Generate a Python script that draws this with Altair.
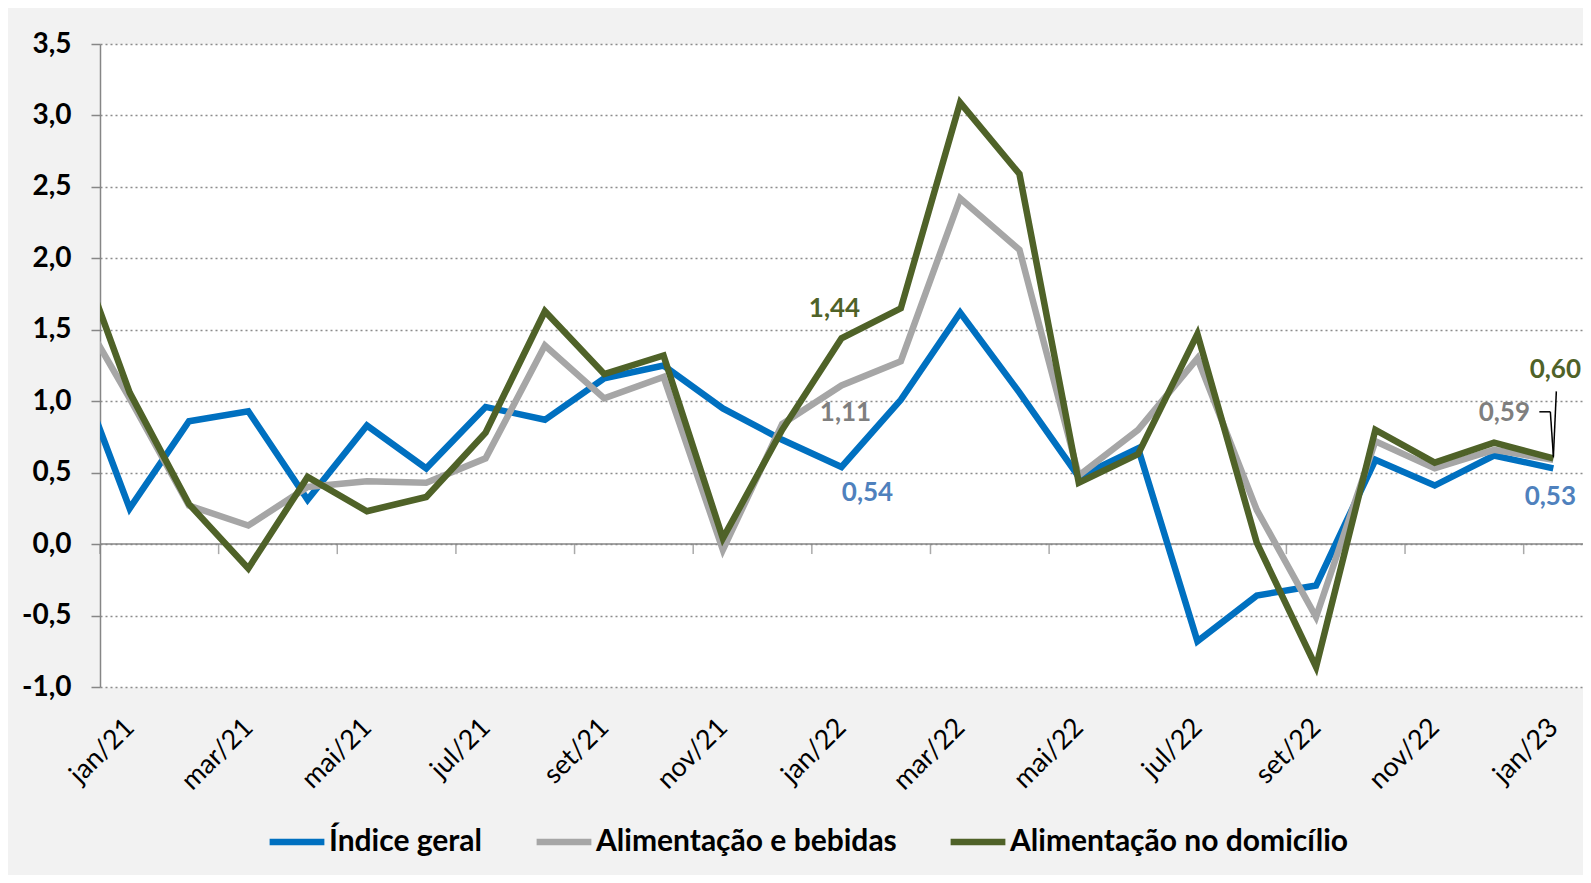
import altair as alt
import pandas as pd

# month index 0 = dez/20 (clipped outside the plot), 1 = jan/21 ... 25 = jan/23
months = ["dez/20", "jan/21", "fev/21", "mar/21", "abr/21", "mai/21", "jun/21", "jul/21",
          "ago/21", "set/21", "out/21", "nov/21", "dez/21", "jan/22", "fev/22", "mar/22",
          "abr/22", "mai/22", "jun/22", "jul/22", "ago/22", "set/22", "out/22", "nov/22",
          "dez/22", "jan/23"]

indice_geral = [1.35, 0.25, 0.86, 0.93, 0.31, 0.83, 0.53, 0.96, 0.87, 1.16, 1.25, 0.95, 0.73,
                0.54, 1.01, 1.62, 1.06, 0.47, 0.67, -0.68, -0.36, -0.29, 0.59, 0.41, 0.62, 0.53]
alim_bebidas = [1.74, 1.02, 0.27, 0.13, 0.40, 0.44, 0.43, 0.60, 1.39, 1.02, 1.17, -0.04, 0.84,
                1.11, 1.28, 2.42, 2.06, 0.48, 0.80, 1.30, 0.24, -0.51, 0.72, 0.53, 0.66, 0.59]
alim_domicilio = [2.20, 1.06, 0.28, -0.17, 0.47, 0.23, 0.33, 0.78, 1.63, 1.19, 1.32, 0.04, 0.80,
                  1.44, 1.65, 3.09, 2.59, 0.43, 0.63, 1.47, 0.01, -0.86, 0.80, 0.57, 0.71, 0.60]

series_names = ["Índice geral", "Alimentação e bebidas", "Alimentação no domicílio"]
series_colors = ["#0070C0", "#A6A6A6", "#4F6228"]
label_colors = ["#4F81BD", "#7F7F7F", "#4F6228"]

label_months = list(range(1, 26, 2))              # labelled categories
tick_bounds = [m - 0.5 for m in label_months]      # tick marks between categories
y_ticks = [-1.0, -0.5, 0.0, 0.5, 1.0, 1.5, 2.0, 2.5, 3.0, 3.5]

# annotations: month index, value, text, series
ann_idx = [13, 13, 13, 25, 25, 25]
ann_val = [1.44, 1.11, 0.54, 0.60, 0.59, 0.53]
ann_text = ["1,44", "1,11", "0,54", "0,60", "0,59", "0,53"]
ann_series = [2, 1, 0, 2, 1, 0]
ann_dx = [-7, 4, 26, 2, -49, -3]
ann_dy = [-29, 27, 26, -88, -47, 29]

FONT = "Lato"
BOLD = "bold"
AXIS_GRAY = "#868686"

rows = []
for s, vals in zip(series_names, [indice_geral, alim_bebidas, alim_domicilio]):
    for i, v in enumerate(vals):
        rows.append({"idx": i, "value": v, "series": s})
df = pd.DataFrame(rows)

label_expr = "[" + ",".join("'" + m + "'" for m in months) + "][datum.value]"

x_scale = alt.Scale(domain=[0.5, 25.5], nice=False, zero=False)
y_scale = alt.Scale(domain=[-1.0, 3.5], nice=False, zero=False)
color_scale = alt.Scale(domain=series_names, range=series_colors)

x_axis = alt.Axis(values=label_months, labelExpr=label_expr, ticks=False, domain=False,
                  grid=False, labelAngle=-45, labelAlign="right", labelBaseline="middle",
                  labelFontSize=27, labelFont=FONT, labelColor="black", labelPadding=36,
                  title=None, labelOverlap=False)
y_axis = alt.Axis(values=y_ticks,
                  labelExpr="replace(replace(format(datum.value, '.1f'), '.', ','), '\u2212', '-')",
                  labelFontSize=28, labelFontWeight=BOLD, labelFont=FONT, labelColor="black",
                  labelPadding=20, domainColor=AXIS_GRAY, domainWidth=1.5,
                  tickColor=AXIS_GRAY, tickWidth=1.5, tickSize=9,
                  grid=True, gridColor="#8c8c8c", gridDash=[2, 3], gridWidth=1.5, title=None)

zero_rule = alt.Chart(pd.DataFrame({"z": [0.0]})).mark_rule(
    color=AXIS_GRAY, strokeWidth=1.5).encode(y=alt.Y("z:Q", scale=y_scale, axis=y_axis))

ticks = alt.Chart(pd.DataFrame({"pos": tick_bounds, "z": [0.0] * len(tick_bounds)})).mark_tick(
    orient="vertical", size=10, thickness=1.5, yOffset=5, color=AXIS_GRAY
).encode(x=alt.X("pos:Q", scale=x_scale, axis=x_axis), y=alt.Y("z:Q", scale=y_scale))

line_layers = []
for s in series_names:
    line_layers.append(
        alt.Chart(df[df["series"] == s]).mark_line(strokeWidth=6.5, clip=True).encode(
            x=alt.X("idx:Q", scale=x_scale, axis=x_axis),
            y=alt.Y("value:Q", scale=y_scale, axis=y_axis),
            color=alt.Color("series:N", scale=color_scale, sort=series_names, title=None),
        )
    )

text_layers = []
for i in range(len(ann_text)):
    d = pd.DataFrame({"idx": [ann_idx[i]], "value": [ann_val[i]], "t": [ann_text[i]]})
    text_layers.append(
        alt.Chart(d).mark_text(font=FONT, fontSize=26, fontWeight=BOLD,
                               color=label_colors[ann_series[i]], dx=ann_dx[i], dy=ann_dy[i],
                               align="center", baseline="middle").encode(
            x=alt.X("idx:Q", scale=x_scale), y=alt.Y("value:Q", scale=y_scale), text="t:N")
    )

# leader lines for the jan/23 labels (offsets relative to the data point)
leaders = []
leader_specs = [
    (ann_idx[3], ann_val[3], 3, -67, 0, -1),
    (ann_idx[4], ann_val[4], -14, -48, -3, -48),
    (ann_idx[4], ann_val[4], -3, -48, 0, -4),
]
for (ix, v, xo, yo, x2o, y2o) in leader_specs:
    d = pd.DataFrame({"idx": [ix], "value": [v]})
    leaders.append(
        alt.Chart(d).mark_rule(color="black", strokeWidth=1.5, xOffset=xo, yOffset=yo,
                               x2Offset=x2o, y2Offset=y2o).encode(
            x=alt.X("idx:Q", scale=x_scale), x2="idx:Q",
            y=alt.Y("value:Q", scale=y_scale), y2="value:Q")
    )

chart = alt.layer(zero_rule, ticks, *line_layers, *leaders, *text_layers).properties(
    width=1483, height=643, background="#f2f2f2",
    padding={"left": 92, "top": 36, "right": 0, "bottom": 188},
    autosize=alt.AutoSizeParams(type="none"),
).configure_view(
    fill="white", stroke="transparent"
).configure_legend(
    orient="none", legendX=166, legendY=767, direction="horizontal",
    symbolType="stroke", symbolSize=3000, symbolStrokeWidth=6.5,
    labelFontSize=30, labelFontWeight=BOLD, labelFont=FONT, labelColor="black",
    labelLimit=0, columnPadding=40, labelOffset=1, padding=0
)

chart.save("out.html", embed_options={"renderer": "svg", "actions": False})
